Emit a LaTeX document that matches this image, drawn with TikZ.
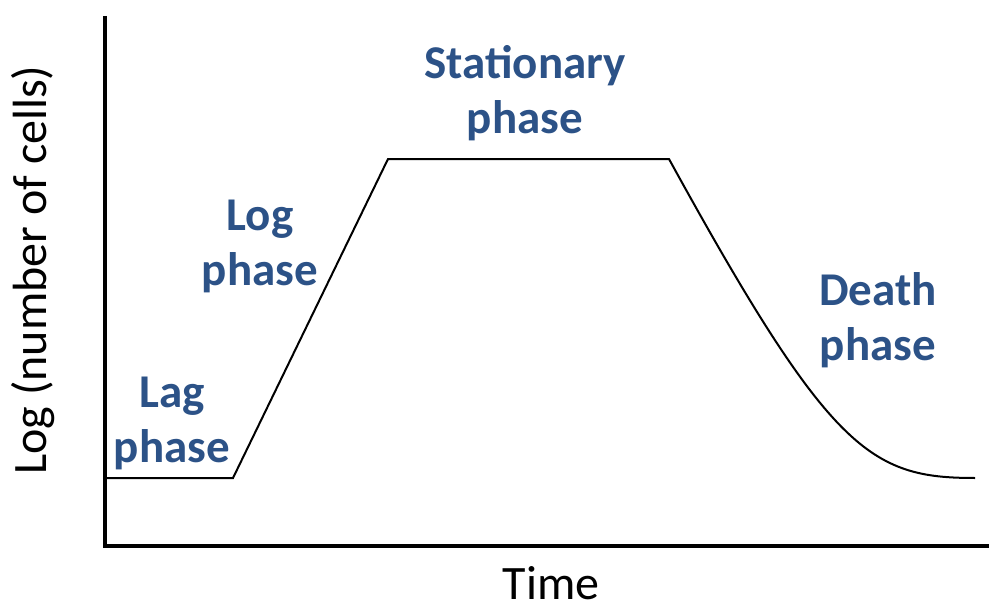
\documentclass[tikz,border=0pt]{standalone}
\usepackage{fontspec}
\setmainfont{Carlito}
\begin{document}
\begin{tikzpicture}[x=1pt,y=-1pt]
\definecolor{phaseblue}{RGB}{44,82,135}
\tikzset{
  phaselabel/.style={font=\fontsize{47}{55}\selectfont\bfseries, text=phaseblue, align=center, inner sep=0pt, anchor=base},
  axislabel/.style={font=\fontsize{48}{56}\selectfont, text=black, inner sep=0pt, anchor=base},
  axisline/.style={line width=4pt, line join=miter},
  curveline/.style={line width=2pt, line join=miter}
}
\useasboundingbox (0,0) rectangle (989,610);
\coordinate (ytop) at (105,16);
\coordinate (orig) at (105,546);
\coordinate (xend) at (989,546);
\draw[axisline] (ytop) -- (orig) -- (xend);
\coordinate (c0) at (105,478);
\coordinate (c1) at (233,478);
\coordinate (c2) at (388,159);
\coordinate (c3) at (669,159);
\coordinate (c4) at (975,478);
\draw[curveline] (c0) -- (c1) -- (c2) -- (c3) .. controls (830,452) and (870,478) .. (c4);
\node[phaselabel] (stat) at (525,133) {Stationary\\phase};
\node[phaselabel] (logp) at (260,285) {Log\\phase};
\node[phaselabel] (lagp) at (172,462) {Lag\\phase};
\node[phaselabel] (death) at (878,360) {Death\\phase};
\node[axislabel, rotate=90] (ylab) at (46,270) {Log (number of cells)};
\node[axislabel] (xlab) at (551,599) {Time};
\end{tikzpicture}
\end{document}
